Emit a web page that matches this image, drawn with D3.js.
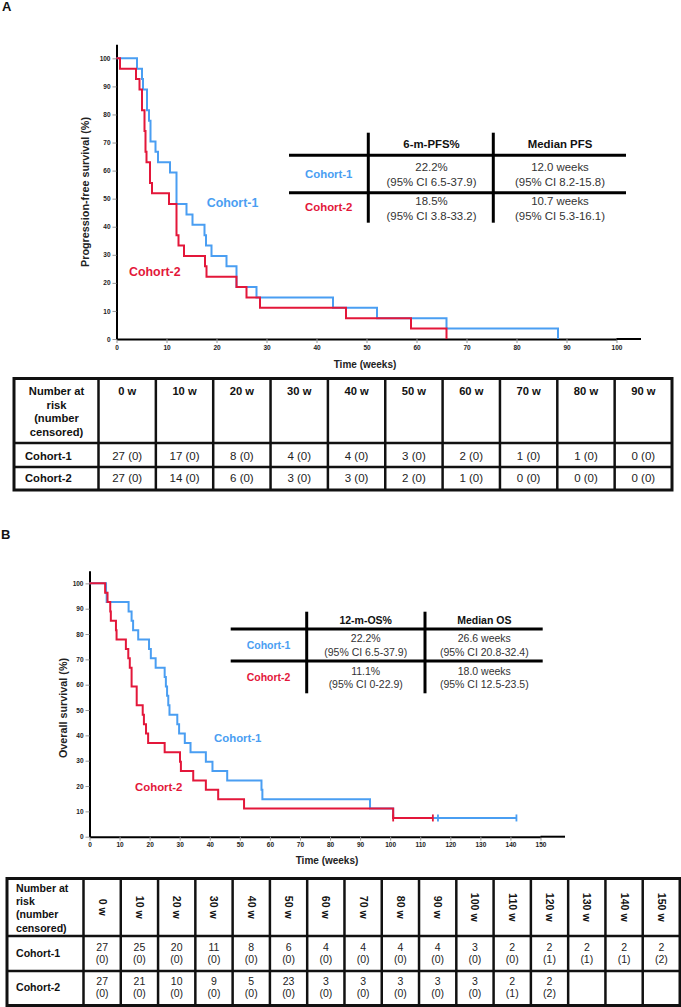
<!DOCTYPE html>
<html><head><meta charset="utf-8">
<script src="https://cdn.jsdelivr.net/npm/d3@7"></script>
<style>
html,body{margin:0;padding:0;background:#fff;}
svg{display:block;font-family:"Liberation Sans",Arial,sans-serif;}
</style></head>
<body>
<svg id="chart" width="681" height="1007"></svg>
<script>
// ---------------- DATA ----------------
// Panel A: progression-free survival (step times in weeks, survival % after step)
const pfsT1 = [0, 4.1, 5.1, 5.3, 6.1, 6.5, 6.8, 7.8, 8.3, 10.7, 12.0, 14.0, 15.2, 17.6, 17.9, 19.0, 22.0, 24.0, 28.0, 43.3, 52.1, 66.0, 88.3];
const pfsS1 = [100, 96.3, 92.6, 88.9, 81.5, 77.8, 70.4, 66.7, 63.0, 59.3, 48.1, 44.4, 40.7, 37.0, 33.3, 29.6, 25.9, 18.5, 14.8, 11.1, 7.4, 3.7, 0];
const pfsT2 = [0, 0.7, 3.9, 4.6, 5.1, 5.6, 5.8, 6.0, 6.7, 7.1, 10.5, 12.0, 12.4, 13.5, 17.7, 18.0, 24.0, 26.0, 28.7, 45.9, 58.9, 66.0];
const pfsS2 = [100, 96.3, 92.6, 88.9, 81.5, 74.1, 66.7, 63.0, 55.6, 51.9, 48.1, 37.0, 33.3, 29.6, 25.9, 22.2, 18.5, 14.8, 11.1, 7.4, 3.7, 0];
// Panel B: overall survival
const osT1 = [0, 5.5, 5.7, 13.0, 14.0, 14.5, 16.2, 19.8, 20.4, 22.0, 25.0, 25.4, 25.8, 26.2, 26.6, 29.2, 29.8, 31.7, 33.6, 38.7, 40.9, 45.8, 57.2, 57.5, 93.3, 101.0];
const osS1 = [100, 96.3, 92.6, 88.9, 85.2, 81.5, 77.8, 74.1, 70.4, 66.7, 63.0, 59.3, 55.6, 51.9, 48.1, 44.4, 40.7, 37.0, 33.3, 29.6, 25.9, 22.2, 18.5, 14.8, 11.1, 7.4];
const osEnd1 = 142.0;
const osCens1 = [115.9, 142.0];
const osT2 = [0, 5.2, 6.0, 6.9, 7.1, 8.8, 9.0, 12.1, 12.9, 13.4, 14.0, 15.7, 17.7, 18.1, 18.8, 19.5, 25.0, 30.1, 30.4, 34.5, 38.7, 42.8, 51.4, 101.0];
const osS2 = [100, 96.3, 92.6, 88.9, 85.2, 81.5, 77.8, 74.1, 70.4, 66.7, 59.3, 51.9, 48.1, 44.4, 40.7, 37.0, 33.3, 29.6, 25.9, 22.2, 18.5, 14.8, 11.1, 7.4];
const osEnd2 = 114.2;
const osCens2 = [101.0, 114.2];

const cohorts = ["Cohort-1", "Cohort-2"];
const ticksA = d3.range(0, 101, 10);
const ticksB = d3.range(0, 151, 10);
const yTicks = d3.range(0, 101, 10);

// Inset tables
const insetHeadA = ["6-m-PFS%", "Median PFS"];
const insetA1 = [["22.2%", "(95% CI 6.5-37.9)"], ["12.0 weeks", "(95% CI 8.2-15.8)"]];
const insetA2 = [["18.5%", "(95% CI 3.8-33.2)"], ["10.7 weeks", "(95% CI 5.3-16.1)"]];
const insetHeadB = ["12-m-OS%", "Median OS"];
const insetB1 = [["22.2%", "(95% CI 6.5-37.9)"], ["26.6 weeks", "(95% CI 20.8-32.4)"]];
const insetB2 = [["11.1%", "(95% CI 0-22.9)"], ["18.0 weeks", "(95% CI 12.5-23.5)"]];

// Risk tables
const riskHeadLines = ["Number at", "risk", "(number", "censored)"];
const riskWeeksA = d3.range(0, 91, 10);
const riskA1 = [27, 17, 8, 4, 4, 3, 2, 1, 1, 0];
const censA1 = [0, 0, 0, 0, 0, 0, 0, 0, 0, 0];
const riskA2 = [27, 14, 6, 3, 3, 2, 1, 0, 0, 0];
const censA2 = [0, 0, 0, 0, 0, 0, 0, 0, 0, 0];
const riskWeeksB = d3.range(0, 151, 10);
const riskB1 = [27, 25, 20, 11, 8, 6, 4, 4, 4, 4, 3, 2, 2, 2, 2, 2];
const censB1 = [0, 0, 0, 0, 0, 0, 0, 0, 0, 0, 0, 0, 1, 1, 1, 2];
const riskB2 = [27, 21, 10, 9, 5, 23, 3, 3, 3, 3, 3, 2, 2];
const censB2 = [0, 0, 0, 0, 0, 0, 0, 0, 0, 0, 0, 1, 2];

// ---------------- STYLE ----------------
const BLUE = "#4a9ef2", RED = "#e3173a";
const colors = [BLUE, RED];
const svg = d3.select("#chart");

function txt(g, x, y, s, o = {}) {
  return g.append("text").attr("x", x).attr("y", y).text(s)
    .attr("font-size", o.size || 11).attr("font-weight", o.bold ? "bold" : "normal")
    .attr("fill", o.fill || "#111").attr("text-anchor", o.anchor || "start");
}

// Panel letters
txt(svg, 2, 11, "A", {size: 13, bold: true});
txt(svg, 1, 539, "B", {size: 13, bold: true});

// ---------------- KM PANEL ----------------
function kmPanel(cfg) {
  const g = svg.append("g");
  const x = d3.scaleLinear().domain(cfg.xDomain).range(cfg.xRange);
  const y = d3.scaleLinear().domain([0, 105]).range(cfg.yRange);
  // axes
  const ax = g.append("g").attr("transform", `translate(0,${y(0)})`)
    .call(d3.axisBottom(x).tickValues(cfg.ticks).tickSize(4).tickSizeOuter(0).tickPadding(2));
  const ay = g.append("g").attr("transform", `translate(${x(0)},0)`)
    .call(d3.axisLeft(y).tickValues(yTicks).tickSize(4).tickSizeOuter(0).tickPadding(2));
  [ax, ay].forEach(a => {
    a.select(".domain").attr("stroke", "#000").attr("stroke-width", 2);
    a.selectAll(".tick line").attr("stroke", "#999").attr("stroke-width", 1);
    a.selectAll(".tick text").attr("font-size", 6.5).attr("font-weight", "bold")
      .attr("fill", "#222").attr("font-family", '"Liberation Sans",Arial,sans-serif');
  });
  // axis titles
  txt(g, cfg.xTitlePos[0], cfg.xTitlePos[1], "Time (weeks)", {size: 10, bold: true, anchor: "middle", fill: "#222"});
  g.append("text").attr("transform", `translate(${cfg.yTitlePos[0]},${cfg.yTitlePos[1]}) rotate(-90)`)
    .attr("text-anchor", "middle").attr("font-size", 10.8).attr("font-weight", "bold")
    .attr("fill", "#222").text(cfg.yTitle);
  // curves
  const line = d3.line().x(d => x(d[0])).y(d => y(d[1])).curve(d3.curveStepAfter);
  cfg.series.forEach((s, i) => {
    const pts = s.t.map((t, k) => [t, s.s[k]]);
    if (s.end != null) pts.push([s.end, s.s[s.s.length - 1]]);
    g.append("path").datum(pts).attr("d", line).attr("fill", "none")
      .attr("stroke", colors[i]).attr("stroke-width", 2).attr("stroke-linejoin", "miter");
    (s.cens || []).forEach(ct => {
      // survival at censor time
      let v = s.s[0];
      s.t.forEach((t, k) => { if (t <= ct) v = s.s[k]; });
      g.append("line").attr("x1", x(ct)).attr("x2", x(ct))
        .attr("y1", y(v) - 3.5).attr("y2", y(v) + 3.5)
        .attr("stroke", colors[i]).attr("stroke-width", 1.8);
    });
  });
  // curve labels
  cfg.labels.forEach((l, i) => txt(g, l[0], l[1], cohorts[i], {size: cfg.labelSize, bold: true, fill: colors[i]}));
  return g;
}

kmPanel({
  xDomain: [0, 100], xRange: [116.5, 616.5], yRange: [339, 44.3], ticks: ticksA,
  xTitlePos: [365, 368], yTitlePos: [89, 192], yTitle: "Progression-free survival (%)",
  series: [{t: pfsT1, s: pfsS1}, {t: pfsT2, s: pfsS2}],
  labels: [[206.7, 207], [129, 276]], labelSize: 12.4
});
// extend A x-axis beyond 100
svg.append("line").attr("x1", 616.5).attr("x2", 641).attr("y1", 339).attr("y2", 339).attr("stroke", "#000").attr("stroke-width", 2);

kmPanel({
  xDomain: [0, 150], xRange: [89.5, 540.5], yRange: [836.7, 570.7], ticks: ticksB,
  xTitlePos: [327, 864], yTitlePos: [67, 708], yTitle: "Overall survival (%)",
  series: [{t: osT1, s: osS1, end: osEnd1, cens: osCens1}, {t: osT2, s: osS2, end: osEnd2, cens: osCens2}],
  labels: [[214, 742], [135, 791]], labelSize: 11.4
});
svg.append("line").attr("x1", 540.5).attr("x2", 565).attr("y1", 836.7).attr("y2", 836.7).attr("stroke", "#000").attr("stroke-width", 2);

// ---------------- INSET TABLES ----------------
function inset(cfg) {
  const g = svg.append("g");
  cfg.hy.forEach(yy => g.append("line").attr("x1", cfg.x0).attr("x2", cfg.x1).attr("y1", yy).attr("y2", yy).attr("stroke", "#000").attr("stroke-width", 3));
  cfg.vx.forEach(xx => g.append("line").attr("x1", xx).attr("x2", xx).attr("y1", cfg.y0).attr("y2", cfg.y1).attr("stroke", "#000").attr("stroke-width", 3));
  cfg.head.forEach((h, j) => txt(g, cfg.cx[j], cfg.headY, h, {size: cfg.size, bold: true, anchor: "middle"}));
  [cfg.r1, cfg.r2].forEach((row, i) => {
    txt(g, cfg.labX, cfg.labY[i], cohorts[i], {size: cfg.size, bold: true, fill: colors[i]});
    row.forEach((cell, j) => cell.forEach((s, k) => txt(g, cfg.cx[j], cfg.rowY[i][k], s, {size: cfg.size, anchor: "middle", fill: "#333"})));
  });
}
inset({x0: 289, x1: 626, hy: [155.3, 192.7], vx: [368.3, 493.3], y0: 132.7, y1: 222.7,
  head: insetHeadA, cx: [431.5, 560], headY: 147.5, size: 11.4, labX: 305, labY: [178, 211],
  r1: insetA1, r2: insetA2, rowY: [[171, 186], [205, 220]]});
inset({x0: 230.7, x1: 542.7, hy: [629, 661], vx: [306.7, 425], y0: 611.7, y1: 693.3,
  head: insetHeadB, cx: [365.7, 484.3], headY: 624, size: 10.5, labX: 246.7, labY: [648.5, 680.5],
  r1: insetB1, r2: insetB2, rowY: [[642, 655.7], [674.5, 688]]});

// ---------------- RISK TABLES ----------------
function riskTable(cfg) {
  const g = svg.append("g");
  const n = cfg.weeks.length;
  const xs = d3.scaleBand().domain(d3.range(n)).range([cfg.c0, cfg.x1]);
  const rows = cfg.rows; // y boundaries
  // header texts
  riskHeadLines.forEach((s, k) => txt(g, cfg.headTX, cfg.headLineY[k], s, {size: cfg.hsize, bold: true, anchor: cfg.headAnchor}));
  cfg.weeks.forEach((w, j) => {
    const cx = xs(j) + xs.bandwidth() / 2;
    if (cfg.rotate) {
      g.append("text").attr("transform", `translate(${cx - 3.5},${(rows[0] + rows[1]) / 2}) rotate(90)`)
        .attr("text-anchor", "middle").attr("font-size", cfg.hsize).attr("font-weight", "bold")
        .attr("fill", "#111").text(w + " w");
    } else {
      txt(g, cx, cfg.headLineY[0], w + " w", {size: cfg.hsize, bold: true, anchor: "middle"});
    }
  });
  [[cfg.r1, cfg.c1], [cfg.r2, cfg.c2]].forEach(([r, c], i) => {
    txt(g, cfg.labX, cfg.labY[i], cohorts[i], {size: cfg.hsize, bold: true});
    r.forEach((v, j) => {
      const cx = xs(j) + xs.bandwidth() / 2;
      if (cfg.twoLine) {
        txt(g, cx, cfg.valY[i][0], String(v), {size: cfg.vsize, anchor: "middle", fill: "#222"});
        txt(g, cx, cfg.valY[i][1], `(${c[j]})`, {size: cfg.vsize, anchor: "middle", fill: "#222"});
      } else {
        txt(g, cx, cfg.valY[i][0], `${v} (${c[j]})`, {size: cfg.vsize, anchor: "middle", fill: "#222"});
      }
    });
  });
  // grid
  const vlines = [cfg.c0].concat(d3.range(1, n).map(j => xs(j)));
  vlines.forEach(xx => g.append("line").attr("x1", xx).attr("x2", xx).attr("y1", rows[0]).attr("y2", rows[3]).attr("stroke", "#111").attr("stroke-width", 2.5));
  [rows[1], rows[2]].forEach(yy => g.append("line").attr("x1", cfg.x0).attr("x2", cfg.x1).attr("y1", yy).attr("y2", yy).attr("stroke", "#111").attr("stroke-width", 2.5));
  g.append("rect").attr("x", cfg.x0).attr("y", rows[0]).attr("width", cfg.x1 - cfg.x0).attr("height", rows[3] - rows[0])
    .attr("fill", "none").attr("stroke", "#111").attr("stroke-width", 3);
}
riskTable({x0: 14, c0: 98.5, x1: 672, rows: [378.5, 443, 467, 490], weeks: riskWeeksA,
  headTX: 56.5, headAnchor: "middle", headLineY: [395, 408.5, 422, 435.5], hsize: 11.2, vsize: 11.5,
  labX: 25, labY: [459.5, 482], r1: riskA1, c1: censA1, r2: riskA2, c2: censA2,
  valY: [[459.5], [482]], twoLine: false, rotate: false});
riskTable({x0: 7, c0: 83.5, x1: 680, rows: [878.5, 936, 971, 1005.5], weeks: riskWeeksB,
  headTX: 16, headAnchor: "start", headLineY: [891.7, 905, 918.3, 931.6], hsize: 10.6, vsize: 10.5,
  labX: 16, labY: [957, 991], r1: riskB1, c1: censB1, r2: riskB2, c2: censB2,
  valY: [[951, 962.5], [985, 997]], twoLine: true, rotate: true});
</script>
</body></html>
